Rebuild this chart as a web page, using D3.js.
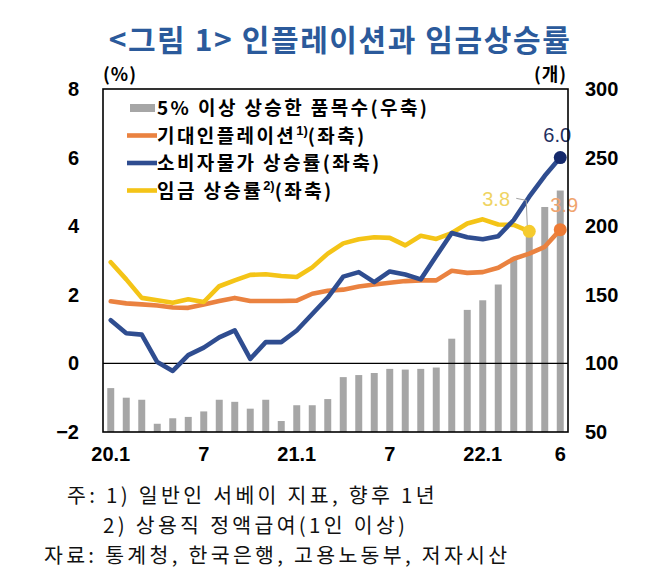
<!DOCTYPE html>
<html>
<head>
<meta charset="utf-8">
<script src="https://cdn.jsdelivr.net/npm/d3@7"></script>
<style>
  html, body { margin: 0; padding: 0; background: #fff; }
  svg { display: block; }
</style>
</head>
<body>
<svg id="chart" width="658" height="574"></svg>
<script>
// ---------------- data ----------------
const months = ["20.1","20.2","20.3","20.4","20.5","20.6","20.7","20.8","20.9","20.10","20.11","20.12",
                "21.1","21.2","21.3","21.4","21.5","21.6","21.7","21.8","21.9","21.10","21.11","21.12",
                "22.1","22.2","22.3","22.4","22.5","22.6"];
const tickMonths = ["20.1","20.7","21.1","21.7","22.1","22.6"];
const tickLabels = ["20.1","7","21.1","7","22.1","6"];
const leftTicks = [-2, 0, 2, 4, 6, 8];
const rightTicks = [50, 100, 150, 200, 250, 300];

// 5% 이상 상승한 품목수 (right axis, count)
const itemsOver5 = [82, 75, 73.5, 56, 60, 61, 65, 73.5, 72, 67, 73.5, 58,
                    69.5, 69.5, 74, 90, 91.5, 93, 96, 95.5, 96, 97, 118, 139,
                    146, 157.5, 177, 196, 214, 226];
// 기대인플레이션 (left axis, %)
const expInflation = [1.81, 1.75, 1.72, 1.69, 1.63, 1.62, 1.72, 1.82, 1.91, 1.82, 1.82, 1.82,
                      1.83, 2.03, 2.12, 2.15, 2.24, 2.3, 2.35, 2.4, 2.42, 2.42, 2.7, 2.64,
                      2.66, 2.79, 3.05, 3.2, 3.4, 3.9];
// 소비자물가 상승률 (left axis, %)
const cpi = [1.26, 0.88, 0.84, 0.04, -0.22, 0.24, 0.46, 0.76, 0.96, 0.13, 0.62, 0.62,
             0.96, 1.44, 1.92, 2.53, 2.66, 2.37, 2.68, 2.59, 2.45, 3.13, 3.8, 3.68,
             3.62, 3.71, 4.18, 4.86, 5.47, 6.0];
// 임금 상승률 (left axis, %) — available through 22.4
const wage = [2.95, 2.45, 1.91, 1.84, 1.77, 1.87, 1.79, 2.25, 2.42, 2.58, 2.6, 2.55,
              2.52, 2.8, 3.2, 3.5, 3.62, 3.68, 3.66, 3.44, 3.72, 3.63, 3.8, 4.08,
              4.2, 4.05, 4.04, 3.85];

const endLabels = ["6.0", "3.9", "3.8"];

// ---------------- layout ----------------
const plot = {left: 103, right: 568, top: 89, bottom: 432};
const KR = "'Noto Sans CJK KR', 'Noto Sans', sans-serif";
const NUM = "'Liberation Sans', Arial, sans-serif";

const colors = {
  title: "#2B5A9B",
  bar: "#A6A6A6",
  exp: "#EA8240",
  cpi: "#2F4D90",
  wage: "#F4C417",
  cpiDot: "#15296B",
  cpiLabel: "#1E2F5F",
  expLabel: "#F0A46E",
  wageLabel: "#EFD463"
};

const svg = d3.select("#chart");

const x = d3.scaleBand().domain(months).range([plot.left, plot.right])
  .paddingInner(0.55).paddingOuter(0.275);
const yL = d3.scaleLinear().domain([-2, 8]).range([plot.bottom, plot.top]);
const yR = d3.scaleLinear().domain([50, 300]).range([plot.bottom, plot.top]);
const cx = m => x(m) + x.bandwidth() / 2;

// title
svg.append("text")
  .attr("x", 340).attr("y", 51)
  .attr("text-anchor", "middle")
  .style("font-family", KR).style("font-size", "30px").style("font-weight", 700)
  .style("letter-spacing", "1.6px")
  .attr("fill", colors.title)
  .text("<그림 1> 인플레이션과 임금상승률");

// unit labels
svg.append("text").attr("x", 103).attr("y", 81)
  .style("font-family", KR).style("font-size", "18px").style("font-weight", 700)
  .style("letter-spacing", "1px")
  .text("(%)");
svg.append("text").attr("x", 534).attr("y", 81)
  .style("font-family", KR).style("font-size", "18px").style("font-weight", 700)
  .style("letter-spacing", "1px")
  .text("(개)");

// bars
svg.append("g").selectAll("rect")
  .data(months.map((m, i) => ({m, v: itemsOver5[i]})))
  .join("rect")
  .attr("x", d => x(d.m))
  .attr("width", x.bandwidth())
  .attr("y", d => yR(d.v))
  .attr("height", d => yR(50) - yR(d.v))
  .attr("fill", colors.bar);

// zero line
svg.append("line")
  .attr("x1", plot.left).attr("x2", plot.right)
  .attr("y1", yL(0)).attr("y2", yL(0))
  .attr("stroke", "#000").attr("stroke-width", 1.2);

// lines
const line = d3.line().x(d => cx(d.m)).y(d => yL(d.v));
const seriesDefs = [
  {key: "exp", data: expInflation, color: colors.exp},
  {key: "wage", data: wage, color: colors.wage},
  {key: "cpi", data: cpi, color: colors.cpi}
];
seriesDefs.forEach(s => {
  const pts = s.data.map((v, i) => ({m: months[i], v}));
  s.pts = pts;
  svg.append("path")
    .datum(pts)
    .attr("d", line)
    .attr("fill", "none")
    .attr("stroke", s.color)
    .attr("stroke-width", 4.6)
    .attr("stroke-linejoin", "round")
    .attr("stroke-linecap", "round");
});
const S = Object.fromEntries(seriesDefs.map(s => [s.key, s]));

// end markers
const lastPt = k => S[k].pts[S[k].pts.length - 1];
[["wage", "#F5CB2E"], ["exp", "#EE7B35"], ["cpi", colors.cpiDot]].forEach(([k, c]) => {
  const p = lastPt(k);
  svg.append("circle").attr("cx", cx(p.m)).attr("cy", yL(p.v)).attr("r", 6.5).attr("fill", c);
});

// end labels
const pc = lastPt("cpi"), pe = lastPt("exp"), pw = lastPt("wage");
svg.append("text").attr("x", cx(pc.m) - 3).attr("y", yL(pc.v) - 16)
  .attr("text-anchor", "middle")
  .style("font-family", NUM).style("font-size", "20px")
  .attr("fill", colors.cpiLabel).text(endLabels[0]);
svg.append("text").attr("x", cx(pe.m) - 10).attr("y", yL(pe.v) - 18)
  .style("font-family", NUM).style("font-size", "20px")
  .attr("fill", colors.expLabel).text(endLabels[1]);
svg.append("text").attr("x", cx(pw.m) - 47).attr("y", yL(pw.v) - 25)
  .style("font-family", NUM).style("font-size", "20px")
  .attr("fill", colors.wageLabel).text(endLabels[2]);
// leader line for 3.8
svg.append("path")
  .attr("d", `M${cx(pw.m) - 13},${yL(pw.v) - 33} L${cx(pw.m) - 3},${yL(pw.v) - 31} L${cx(pw.m) - 2},${yL(pw.v) - 6}`)
  .attr("fill", "none").attr("stroke", "#A0A0A0").attr("stroke-width", 1);

// axes
const axisFont = g => g.selectAll("text")
  .style("font-family", NUM).style("font-size", "20px").style("font-weight", 700).attr("fill", "#000");

svg.append("g")
  .attr("transform", `translate(${plot.left},0)`)
  .call(d3.axisLeft(yL).tickValues(leftTicks).tickSize(0).tickPadding(24).tickFormat(d3.format("d")))
  .call(g => g.select(".domain").remove())
  .call(axisFont);

svg.append("g")
  .attr("transform", `translate(${plot.right},0)`)
  .call(d3.axisRight(yR).tickValues(rightTicks).tickSize(0).tickPadding(17))
  .call(g => g.select(".domain").remove())
  .call(axisFont);

svg.append("g")
  .attr("transform", `translate(0,${plot.bottom})`)
  .call(d3.axisBottom(x).tickValues(tickMonths).tickSize(0).tickPadding(15)
        .tickFormat(m => tickLabels[tickMonths.indexOf(m)]))
  .call(g => g.select(".domain").remove())
  .call(axisFont);

// frame
svg.append("rect")
  .attr("x", plot.left).attr("y", plot.top)
  .attr("width", plot.right - plot.left).attr("height", plot.bottom - plot.top)
  .attr("fill", "none").attr("stroke", "#000").attr("stroke-width", 1.6);

// legend
const legend = svg.append("g").style("font-family", KR).style("font-size", "19px")
  .style("font-weight", 700).style("letter-spacing", "2.4px");
const legendItems = [
  {type: "bar", color: colors.bar, parts: [["5% 이상 상승한 품목수(우축)"]]},
  {type: "line", color: colors.exp, parts: [["기대인플레이션"], ["1)", "sup"], ["(좌축)"]]},
  {type: "line", color: colors.cpi, parts: [["소비자물가 상승률(좌축)"]]},
  {type: "line", color: colors.wage, parts: [["임금 상승률"], ["2)", "sup"], ["(좌축)"]]}
];
const legendY = [108, 135.5, 163, 190.5];
legendItems.forEach((it, i) => {
  const y = legendY[i];
  if (it.type === "bar") {
    legend.append("rect").attr("x", 130).attr("y", y - 4).attr("width", 25).attr("height", 8).attr("fill", it.color);
  } else {
    legend.append("line").attr("x1", 127).attr("x2", 157).attr("y1", y).attr("y2", y)
      .attr("stroke", it.color).attr("stroke-width", 4.6);
  }
  const t = legend.append("text").attr("x", 157).attr("y", y + 7);
  it.parts.forEach(([s, kind]) => {
    const ts = t.append("tspan").text(s);
    if (kind === "sup") ts.attr("dy", -8).style("font-size", "13px").style("letter-spacing", "0px").style("font-family", NUM);
    else if (t.selectAll("tspan").size() > 1) ts.attr("dy", 8);
  });
});

// footnotes
const notes = svg.append("g").style("font-family", KR).style("font-size", "20.5px")
  .style("letter-spacing", "3.3px").attr("fill", "#111");
notes.append("text").attr("x", 67).attr("y", 503).text("주: 1) 일반인  서베이  지표,  향후  1년");
notes.append("text").attr("x", 103).attr("y", 533).text("2) 상용직  정액급여(1인  이상)");
notes.append("text").attr("x", 44).attr("y", 563).text("자료: 통계청,  한국은행,  고용노동부,  저자시산");
</script>
</body>
</html>
